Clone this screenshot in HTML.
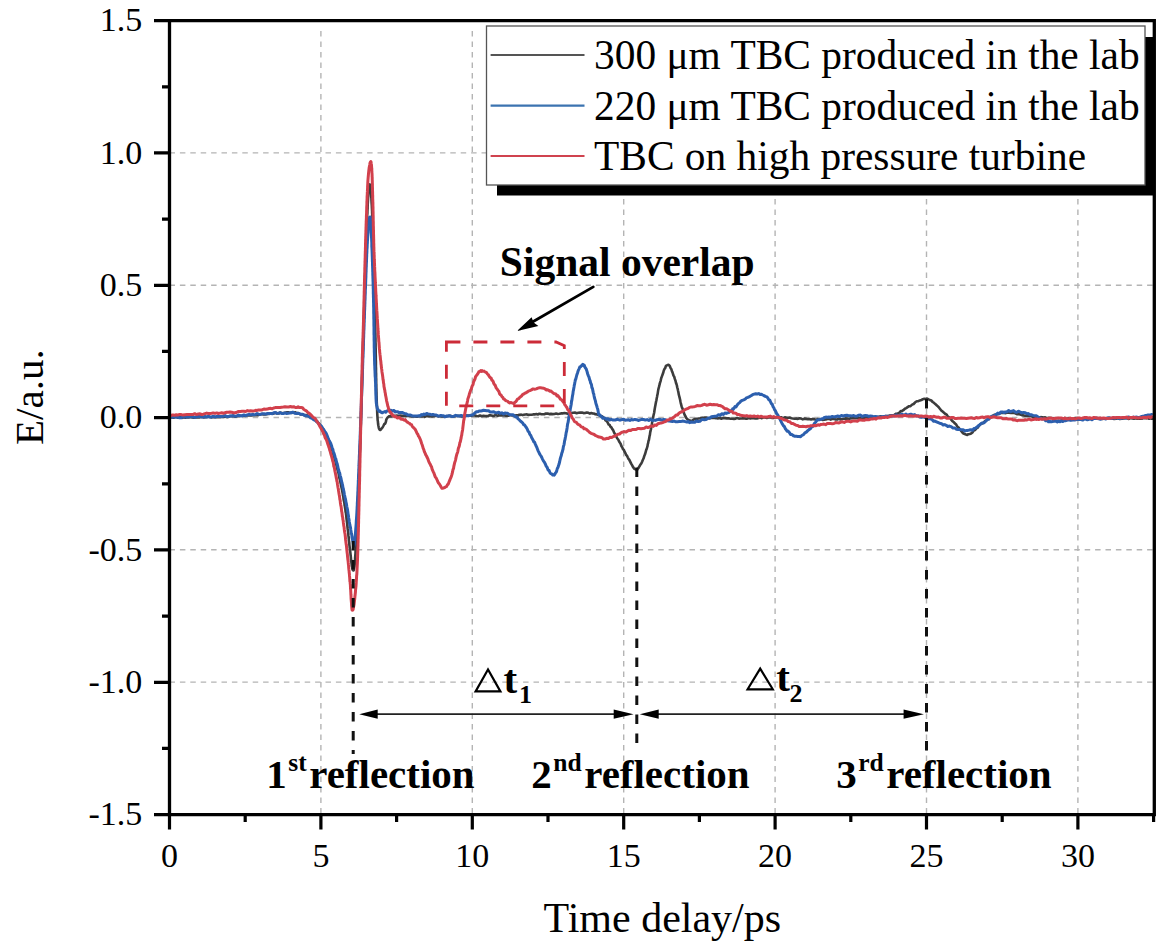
<!DOCTYPE html>
<html><head><meta charset="utf-8"><style>
html,body{margin:0;padding:0;background:#fff;}
body{width:1166px;height:950px;position:relative;overflow:hidden;font-family:"Liberation Serif",serif;color:#000;}
svg{position:absolute;left:0;top:0;}
</style></head><body>
<svg width="1166" height="950" viewBox="0 0 1166 950">
<path d="M320.9,31V813M472.3,31V813M623.7,31V813M775.1,31V813M926.5,31V813M1077.9,31V813" stroke="#b4b4b4" stroke-width="1.4" stroke-dasharray="5.5 5" fill="none"/>
<path d="M169.5,152.9H1153M169.5,285.2H1153M169.5,417.5H1153M169.5,549.8H1153M169.5,682.1H1153" stroke="#b4b4b4" stroke-width="1.4" stroke-dasharray="5.5 4.9" fill="none"/>
<path d="M170.0,417.2L170.9,417.5L171.8,417.3L172.8,417.6L174.0,417.6L175.2,417.0L176.4,416.9L177.8,417.7L179.2,417.2L180.6,417.1L182.2,417.9L183.7,417.3L185.4,417.7L187.0,417.3L188.8,417.4L190.5,416.9L192.3,417.4L194.1,417.6L195.9,417.3L197.8,417.4L199.7,417.4L201.6,416.7L203.5,417.4L205.4,417.2L207.3,416.9L209.1,416.6L211.0,417.4L212.9,416.9L214.8,417.2L216.6,417.3L218.4,417.1L220.2,417.2L221.9,416.7L223.6,417.0L225.3,416.6L226.9,417.1L228.5,416.9L230.0,416.1L231.8,416.1L233.6,416.1L235.4,416.7L237.2,416.1L239.0,416.2L240.8,415.7L242.6,415.8L244.4,415.6L246.2,415.4L247.9,415.5L249.7,415.4L251.5,415.5L253.2,415.2L255.0,415.3L256.7,415.1L258.4,415.1L260.1,414.6L261.7,414.0L263.3,414.5L264.9,414.5L266.5,414.3L268.0,413.9L269.5,413.9L271.0,413.3L272.4,413.8L273.8,413.4L275.1,413.1L276.4,412.8L277.7,413.5L278.9,413.5L280.0,412.6L282.7,413.2L285.0,412.7L287.1,412.3L288.8,412.4L290.4,412.8L291.8,412.9L293.0,412.1L294.3,412.8L295.4,412.3L296.7,413.2L298.0,413.0L299.4,413.9L301.0,414.4L302.7,414.3L304.3,415.2L305.9,415.0L307.5,415.4L309.1,416.5L310.6,416.7L312.1,417.6L313.6,418.7L315.0,420.0L316.3,420.7L317.3,421.5L318.3,423.4L319.3,423.9L320.2,425.7L321.1,426.8L321.9,427.5L322.8,428.9L323.6,430.4L324.5,431.9L325.3,433.4L326.1,434.9L326.8,436.6L327.6,438.7L328.4,440.0L328.9,441.2L329.5,442.9L330.0,443.8L330.5,445.3L331.1,447.4L331.6,448.5L332.1,450.0L332.6,451.1L333.1,453.1L333.5,454.9L334.0,456.0L334.5,458.3L335.0,460.0L335.4,461.1L335.9,463.4L336.4,465.0L336.8,466.9L337.2,468.4L337.7,470.5L338.1,472.2L338.5,473.0L338.8,474.5L339.1,476.6L339.5,478.4L339.8,479.2L340.2,481.0L340.5,482.7L340.8,484.0L341.1,485.6L341.4,487.1L341.8,488.8L342.1,490.6L342.4,491.9L342.7,493.6L343.0,495.6L343.3,496.5L343.5,498.7L343.8,500.5L344.1,501.7L344.4,503.2L344.6,505.4L344.9,506.5L345.1,508.1L345.4,509.9L345.6,511.8L345.9,512.8L346.1,514.7L346.3,516.3L346.5,518.5L346.7,519.9L346.9,522.0L347.1,523.0L347.3,525.0L347.5,527.0L347.7,529.0L347.9,530.3L348.1,531.8L348.3,533.3L348.4,535.4L348.6,536.7L348.8,539.0L348.9,540.6L349.1,541.5L349.3,543.1L349.4,545.1L349.6,546.3L349.7,547.8L349.9,548.6L350.0,549.6L350.3,552.2L350.6,555.0L350.8,556.7L351.0,558.8L351.2,560.8L351.4,562.6L351.6,564.2L351.8,566.1L352.0,566.5L352.2,567.4L352.4,569.1L352.6,569.6L352.9,570.2L353.2,570.0L353.5,570.5L353.8,570.0L354.1,568.1L354.4,566.8L354.7,564.1L355.0,560.2L355.1,559.1L355.1,557.8L355.2,556.8L355.3,555.5L355.4,554.2L355.5,553.5L355.5,551.9L355.6,551.1L355.7,548.9L355.8,548.4L355.8,546.7L355.9,545.4L356.0,543.9L356.1,542.3L356.2,540.4L356.3,538.2L356.3,537.2L356.4,535.0L356.5,533.4L356.6,532.0L356.7,530.1L356.8,528.2L356.8,526.9L356.9,524.7L357.0,522.6L357.1,520.6L357.2,519.4L357.3,517.1L357.3,515.5L357.4,513.2L357.5,511.1L357.6,509.6L357.7,507.9L357.8,505.4L357.8,504.1L357.9,502.3L358.0,500.3L358.1,498.9L358.1,496.7L358.2,495.9L358.2,494.7L358.3,492.4L358.4,491.2L358.4,489.7L358.5,488.5L358.5,486.9L358.6,485.4L358.7,484.2L358.7,481.9L358.8,480.4L358.9,479.0L358.9,477.4L359.0,475.8L359.0,475.1L359.1,473.4L359.2,471.1L359.2,469.9L359.3,468.1L359.3,466.5L359.4,465.0L359.5,463.6L359.5,462.0L359.6,460.1L359.7,458.3L359.7,456.8L359.8,455.0L359.8,453.7L359.9,452.2L360.0,450.2L360.0,448.3L360.1,446.7L360.1,445.2L360.2,443.8L360.3,442.3L360.3,440.2L360.4,438.9L360.4,437.1L360.5,435.2L360.5,433.5L360.6,431.9L360.7,430.4L360.7,428.4L360.8,427.0L360.8,425.1L360.9,423.1L360.9,421.7L361.0,420.2L361.0,418.0L361.1,416.9L361.1,415.3L361.2,414.2L361.2,412.7L361.3,410.6L361.3,409.6L361.4,407.9L361.4,405.8L361.5,404.4L361.5,402.4L361.6,401.5L361.6,399.7L361.7,398.4L361.7,396.6L361.8,394.9L361.8,393.3L361.8,391.5L361.9,389.4L361.9,388.3L362.0,386.0L362.0,384.5L362.1,383.5L362.1,381.1L362.2,379.5L362.2,377.9L362.2,377.0L362.3,374.7L362.3,372.9L362.4,372.0L362.4,369.7L362.5,368.7L362.5,366.9L362.5,365.4L362.6,363.9L362.6,361.9L362.7,360.5L362.7,358.1L362.8,357.2L362.8,355.3L362.8,353.9L362.9,351.6L362.9,350.7L363.0,349.2L363.0,346.8L363.1,345.4L363.1,344.1L363.1,342.7L363.2,340.6L363.2,338.9L363.3,337.5L363.3,336.3L363.4,334.8L363.4,332.9L363.5,331.4L363.5,329.9L363.6,328.1L363.6,326.5L363.7,324.5L363.7,323.2L363.8,321.9L363.8,319.7L363.9,318.3L363.9,316.0L364.0,314.8L364.0,313.1L364.1,311.3L364.1,309.5L364.2,307.7L364.2,306.2L364.3,304.7L364.3,302.3L364.4,300.5L364.4,299.5L364.5,297.9L364.5,295.9L364.6,294.1L364.6,292.7L364.7,290.5L364.7,288.9L364.8,287.2L364.8,285.9L364.9,284.0L364.9,282.3L365.0,281.2L365.0,279.8L365.1,277.6L365.1,276.4L365.2,274.5L365.2,273.4L365.3,271.6L365.3,269.7L365.4,268.1L365.4,266.4L365.5,265.4L365.5,263.8L365.6,262.1L365.6,260.9L365.7,259.4L365.7,258.4L365.8,256.4L365.8,255.8L365.9,254.0L365.9,252.7L366.0,251.3L366.0,250.3L366.1,248.2L366.1,245.9L366.2,243.8L366.3,242.0L366.4,240.2L366.4,237.8L366.5,236.2L366.6,234.6L366.6,232.2L366.7,230.1L366.7,228.4L366.8,227.1L366.9,225.3L366.9,223.9L367.0,222.1L367.1,219.9L367.1,218.2L367.2,216.7L367.2,215.1L367.3,214.1L367.4,212.8L367.4,211.5L367.5,209.4L367.6,208.7L367.6,206.8L367.7,205.7L367.7,204.8L367.8,202.9L367.9,201.8L367.9,201.4L368.0,199.8L368.2,196.4L368.4,193.6L368.7,191.1L368.9,188.2L369.1,186.8L369.3,185.7L369.6,185.0L369.8,184.4L370.0,185.1L370.1,185.9L370.3,186.0L370.4,187.1L370.5,187.8L370.7,189.2L370.8,191.1L371.0,192.2L371.1,194.7L371.2,196.7L371.4,197.9L371.5,200.9L371.6,202.6L371.8,205.4L371.9,207.8L372.0,209.8L372.1,211.4L372.1,212.6L372.2,214.1L372.2,214.8L372.3,216.7L372.3,218.3L372.4,219.4L372.4,220.7L372.5,221.7L372.5,223.6L372.6,224.9L372.6,226.8L372.6,228.4L372.7,229.8L372.7,231.1L372.8,233.2L372.8,234.8L372.9,236.0L372.9,238.4L373.0,239.9L373.0,241.1L373.1,243.7L373.1,244.7L373.2,246.7L373.2,248.9L373.2,250.6L373.3,252.4L373.3,254.4L373.4,256.1L373.4,257.9L373.5,259.7L373.5,261.0L373.6,263.0L373.6,264.5L373.7,265.8L373.7,267.5L373.7,268.6L373.8,270.0L373.8,271.7L373.9,273.7L373.9,274.5L373.9,276.5L374.0,277.8L374.0,280.0L374.1,281.2L374.1,282.8L374.2,284.5L374.2,286.3L374.3,288.2L374.3,289.4L374.3,291.6L374.4,292.5L374.4,294.4L374.5,295.9L374.5,297.6L374.6,300.0L374.6,301.6L374.6,302.8L374.7,304.5L374.7,306.4L374.8,308.4L374.8,310.2L374.9,311.9L374.9,313.4L374.9,314.6L375.0,316.6L375.0,318.1L375.1,320.1L375.1,321.8L375.1,323.1L375.2,324.8L375.2,327.0L375.3,327.9L375.3,330.3L375.3,332.0L375.4,333.7L375.4,334.9L375.4,336.7L375.5,338.5L375.5,340.2L375.5,342.3L375.6,343.8L375.6,345.2L375.6,347.5L375.7,348.9L375.7,350.8L375.7,352.7L375.7,353.8L375.8,356.3L375.8,358.0L375.8,359.6L375.9,361.4L375.9,363.1L375.9,364.6L375.9,366.7L376.0,368.0L376.0,370.2L376.0,372.1L376.1,373.6L376.1,375.4L376.1,377.4L376.2,379.0L376.2,379.9L376.2,382.2L376.2,383.6L376.3,384.6L376.3,386.4L376.3,387.8L376.4,389.1L376.4,391.0L376.5,392.8L376.5,393.6L376.5,395.4L376.6,396.6L376.6,397.2L376.7,399.2L376.7,400.1L376.8,403.1L376.9,405.4L377.0,407.8L377.1,409.7L377.2,412.2L377.3,414.4L377.4,416.1L377.5,417.4L377.6,419.4L377.7,420.6L377.9,421.6L378.0,422.8L378.1,424.0L378.3,425.2L378.5,426.1L378.7,427.3L378.9,428.3L379.1,428.8L379.7,429.7L380.4,430.0L381.1,429.1L381.9,428.2L382.7,427.2L383.6,425.5L384.3,424.0L385.1,423.7L385.6,422.7L386.0,421.4L386.1,420.4L386.4,419.5L386.8,418.6L387.6,417.4L388.8,416.4L390.6,416.1L391.6,416.5L392.5,415.8L393.5,416.0L394.6,415.7L395.6,415.7L396.8,415.6L398.0,415.9L399.3,415.7L400.6,415.6L402.2,415.8L403.8,415.9L405.6,416.3L407.5,415.9L409.6,415.9L411.9,416.4L414.4,416.4L417.1,416.7L420.0,416.1L421.1,416.4L422.3,416.4L423.5,416.0L424.8,416.9L426.2,416.2L427.6,416.0L429.0,416.4L430.5,416.1L432.0,416.5L433.6,416.2L435.2,416.0L436.9,415.9L438.5,416.5L440.2,416.1L442.0,416.6L443.7,416.2L445.5,416.7L447.3,416.0L449.1,415.9L450.9,415.9L452.7,416.5L454.6,416.3L456.4,415.9L458.3,415.7L460.1,416.2L462.0,416.5L463.9,416.1L465.7,415.5L467.6,415.5L469.4,415.5L471.2,415.6L473.0,415.4L474.8,415.4L476.6,416.0L478.3,416.2L480.0,415.5L481.7,416.2L483.4,415.7L485.0,416.0L486.6,416.1L488.1,416.1L489.6,415.2L491.1,415.4L492.5,415.7L493.9,416.0L495.2,415.2L496.5,415.3L497.7,415.9L498.9,415.1L500.0,415.4L503.1,415.3L505.9,415.6L508.3,415.8L510.4,415.0L512.2,415.5L513.8,415.4L515.3,415.5L516.6,415.2L517.8,415.5L518.9,414.9L520.1,414.9L521.2,414.6L522.5,415.1L523.8,414.8L525.3,414.5L527.0,414.4L528.5,414.9L530.1,414.7L531.6,414.7L533.1,414.4L534.7,414.4L536.3,414.0L537.8,414.5L539.4,413.7L541.0,414.1L542.6,414.3L544.3,414.2L545.9,413.5L547.6,413.6L549.2,414.1L550.9,413.9L552.6,414.1L554.4,414.0L556.1,413.6L557.9,414.0L559.4,413.8L561.0,413.4L562.6,413.4L564.3,413.0L566.0,413.3L567.7,413.8L569.5,412.8L571.3,413.2L573.1,412.7L574.9,412.6L576.6,413.2L578.4,412.7L580.2,412.5L581.9,412.6L583.6,413.1L585.2,413.0L586.8,412.5L588.4,412.8L589.9,413.6L591.3,413.0L592.6,413.5L593.8,413.5L595.0,414.1L597.3,414.5L599.3,415.4L600.9,415.9L602.3,416.5L603.5,417.5L604.5,418.5L605.5,420.4L606.5,421.0L607.5,422.2L608.6,424.5L609.6,424.9L610.5,426.8L611.4,427.4L612.3,429.1L613.2,430.3L614.0,432.4L614.8,433.7L615.7,435.2L616.5,436.9L617.3,438.5L618.2,439.5L619.0,441.3L619.8,442.6L620.6,443.7L621.4,446.0L622.2,447.3L623.0,449.1L623.9,450.0L624.7,451.9L625.5,453.3L626.2,455.1L627.0,455.8L627.8,457.5L628.5,458.8L629.2,459.6L630.3,461.9L631.3,463.9L632.2,465.4L633.2,467.3L634.1,468.6L635.0,469.1L636.0,469.6L637.0,470.0L637.7,468.8L638.4,468.1L639.1,466.8L639.8,465.7L640.6,464.3L641.3,463.5L642.1,461.7L642.8,460.0L643.6,458.3L644.3,455.9L645.0,454.3L645.7,451.9L646.3,449.7L646.7,448.9L647.1,447.5L647.5,446.1L647.8,444.1L648.2,442.9L648.5,440.9L648.9,439.9L649.2,438.2L649.6,435.9L649.9,434.8L650.2,432.4L650.6,430.6L650.9,429.5L651.2,427.3L651.5,425.8L651.9,424.2L652.2,421.8L652.5,420.8L652.9,418.7L653.2,417.1L653.5,415.4L653.8,414.2L654.2,412.5L654.5,410.3L654.8,408.4L655.1,406.8L655.4,405.2L655.8,403.1L656.1,401.4L656.4,400.3L656.7,398.5L657.0,397.0L657.3,395.3L657.7,393.6L658.0,391.4L658.3,389.6L658.6,388.3L659.0,386.9L659.3,385.6L659.7,384.2L660.0,382.8L660.6,381.1L661.2,378.3L661.9,376.4L662.5,374.8L663.2,372.8L663.8,370.5L664.5,368.9L665.2,368.1L665.8,366.1L666.5,365.4L667.2,365.2L667.8,364.9L668.5,364.7L669.2,365.2L669.9,366.3L670.6,368.1L671.4,369.3L672.1,371.6L672.8,373.3L673.5,375.5L674.2,376.6L674.8,378.9L675.5,380.7L675.9,382.5L676.3,383.8L676.8,385.1L677.2,387.3L677.6,388.5L678.0,390.5L678.4,392.2L678.8,394.6L679.2,396.0L679.6,397.6L680.0,399.2L680.4,401.3L680.8,403.1L681.2,404.7L681.6,406.4L682.0,407.7L682.4,408.3L683.2,410.6L684.0,413.3L684.8,415.2L685.6,416.5L686.4,418.2L687.2,419.0L688.2,419.7L689.2,420.3L690.2,420.5L691.0,421.0L691.7,421.0L692.6,420.4L693.7,419.4L695.2,418.9L697.3,418.7L700.0,418.3L701.1,418.1L702.3,417.9L703.5,417.9L704.9,417.6L706.3,417.6L707.8,418.1L709.3,418.5L710.9,418.0L712.6,417.9L714.3,417.9L716.0,418.1L717.8,418.5L719.6,418.1L721.4,418.7L723.2,417.9L725.0,418.1L726.8,418.4L728.6,418.3L730.4,418.8L732.2,418.8L733.9,418.9L735.6,418.6L737.3,418.0L738.9,418.6L740.6,418.5L742.2,418.4L743.9,418.2L745.5,418.6L747.2,418.7L748.8,417.9L750.5,418.4L752.1,418.0L753.7,418.1L755.4,418.4L757.0,418.4L758.6,418.0L760.3,417.5L761.9,418.2L763.5,417.4L765.2,417.5L766.8,417.9L768.4,417.4L770.1,417.3L771.7,417.9L773.3,417.9L775.0,417.3L776.6,417.4L778.2,417.3L779.9,417.2L781.5,417.4L783.2,418.2L784.8,417.4L786.4,417.6L788.1,417.7L789.7,417.6L791.4,418.2L793.0,418.5L794.6,418.7L796.3,418.6L797.9,418.9L799.5,418.2L801.2,418.6L802.8,419.4L804.5,418.6L806.1,418.9L807.7,419.2L809.4,419.0L811.0,419.4L812.7,418.9L814.3,419.1L815.9,419.9L817.6,419.1L819.2,419.8L820.9,419.1L822.5,419.9L824.1,419.6L825.8,419.5L827.4,419.0L829.0,418.9L830.7,419.6L832.3,418.9L834.0,418.9L835.6,419.5L837.2,419.5L838.9,418.6L840.5,419.5L842.2,419.0L843.8,418.8L845.4,418.4L847.1,418.6L848.7,419.1L850.4,418.4L852.0,418.1L853.7,418.1L855.4,418.0L857.1,418.1L858.9,418.6L860.6,417.7L862.4,417.7L864.2,418.4L866.0,418.3L867.8,418.2L869.6,417.4L871.4,417.4L873.2,417.9L874.9,417.3L876.6,417.4L878.3,416.9L880.0,416.4L881.6,416.6L883.1,416.9L884.6,416.7L886.0,416.3L887.3,416.1L888.6,415.9L889.8,415.6L892.2,415.2L894.2,415.0L895.8,413.8L897.2,413.6L898.4,413.3L899.5,412.5L900.7,411.1L901.9,411.1L903.3,410.2L904.9,408.7L906.2,408.1L907.6,407.2L909.1,406.2L910.5,406.1L912.1,404.6L913.6,404.0L915.2,402.3L916.8,401.2L918.3,401.2L919.9,400.4L921.4,400.0L922.9,399.2L924.3,398.8L925.7,399.0L927.1,398.5L928.6,399.4L930.0,400.0L931.3,400.5L932.7,402.0L934.0,402.8L935.3,404.1L936.6,405.2L937.9,406.4L939.1,407.7L940.3,409.2L941.5,410.7L942.6,411.6L944.0,412.8L945.4,414.0L946.7,414.7L947.9,416.7L949.1,417.2L950.3,418.3L951.4,419.9L952.6,421.3L953.8,422.2L955.0,423.6L956.2,424.6L957.4,426.7L958.6,427.6L959.8,429.2L961.0,430.7L962.2,432.3L963.5,433.6L964.7,434.0L966.0,434.5L967.3,434.9L968.5,434.2L969.8,434.0L971.1,433.6L972.4,432.5L973.7,430.6L975.1,430.1L976.4,428.3L977.8,427.5L979.1,425.6L980.5,424.2L981.8,423.5L983.2,422.8L984.7,421.3L986.1,420.7L987.5,419.5L988.9,418.1L990.3,417.1L991.7,416.4L993.2,415.5L994.7,414.8L996.2,414.5L997.8,414.2L999.3,413.6L1000.9,412.9L1002.5,412.8L1004.2,412.9L1005.8,413.1L1007.5,412.6L1009.2,412.6L1010.9,412.9L1012.6,413.0L1014.2,412.9L1015.7,413.6L1017.2,414.2L1018.7,414.1L1020.2,414.6L1021.8,415.1L1023.4,415.4L1025.2,415.8L1027.0,415.7L1028.9,416.2L1031.0,415.9L1032.3,416.8L1033.4,416.5L1034.5,416.7L1035.5,417.3L1036.5,416.8L1037.5,416.8L1038.6,417.6L1039.7,417.5L1040.8,417.1L1042.1,417.2L1043.6,417.6L1045.2,417.4L1047.0,418.3L1049.1,417.8L1051.3,418.0L1053.9,418.2L1056.8,418.3L1060.0,418.3L1061.1,418.5L1062.2,418.6L1063.4,418.4L1064.7,418.1L1066.0,419.0L1067.4,418.7L1068.8,418.1L1070.3,418.4L1071.8,418.8L1073.4,419.0L1075.0,418.1L1076.7,418.0L1078.3,418.5L1080.1,418.5L1081.8,418.9L1083.6,418.9L1085.4,418.4L1087.2,418.5L1089.1,418.6L1091.0,418.9L1092.8,418.3L1094.8,418.4L1096.7,418.1L1098.6,418.7L1100.5,418.1L1102.5,419.0L1104.4,418.6L1106.4,418.6L1108.3,418.1L1110.3,418.3L1112.2,418.5L1114.1,418.9L1116.0,418.6L1117.9,418.3L1119.8,419.0L1121.7,418.7L1123.5,418.5L1125.3,418.2L1127.1,418.3L1128.9,418.9L1130.6,418.1L1132.3,418.5L1134.0,418.6L1135.6,418.3L1137.2,418.7L1138.7,418.8L1140.2,418.8L1141.7,418.7L1143.1,418.1L1144.4,418.0L1145.7,418.3L1146.9,418.2L1148.1,418.1L1149.2,418.8L1150.3,418.1L1151.3,418.7L1152.2,418.8L1153.0,418.0" stroke="#3c3c3c" stroke-width="2.6" fill="none" stroke-linejoin="round"/>
<path d="M170.0,418.0L170.9,417.2L172.0,417.0L173.3,416.9L174.7,416.7L176.2,417.3L177.8,417.2L179.5,417.8L181.3,417.7L183.1,416.6L185.0,417.1L186.9,417.1L188.9,416.7L190.8,416.8L192.8,416.8L194.7,417.4L196.5,416.8L198.3,416.5L200.0,416.6L201.7,416.9L203.3,417.0L205.0,416.5L206.7,417.1L208.3,416.4L210.0,417.0L211.7,416.9L213.3,416.2L215.0,417.0L216.7,416.4L218.3,416.5L220.0,416.6L221.7,416.5L223.3,416.2L225.0,415.6L226.7,416.6L228.3,416.6L230.0,416.0L231.7,416.0L233.4,415.5L235.1,416.3L236.9,415.9L238.6,415.1L240.4,415.8L242.1,415.9L243.9,414.9L245.6,415.7L247.4,414.9L249.1,414.3L250.7,414.9L252.4,414.3L254.0,414.7L255.6,414.4L257.1,413.6L258.6,414.1L260.0,414.5L262.0,413.8L263.9,413.8L265.7,414.1L267.4,413.5L269.1,413.4L270.7,413.4L272.2,413.7L273.7,412.8L275.3,412.5L276.8,413.4L278.4,413.1L280.0,412.7L281.6,413.5L283.3,413.5L285.0,412.9L286.6,413.5L288.3,413.3L289.9,413.1L291.5,412.5L293.1,412.2L294.7,413.2L296.3,413.5L297.9,413.2L299.4,413.7L301.0,414.2L302.7,414.2L304.3,415.3L305.9,415.7L307.5,416.1L309.1,416.4L310.6,417.8L312.1,418.3L313.6,419.7L315.0,420.0L316.3,421.4L317.5,422.1L318.6,423.5L319.7,424.9L320.8,425.5L321.8,426.7L322.8,428.6L323.8,429.6L324.7,431.5L325.7,432.6L326.6,434.2L327.5,436.6L328.4,439.0L329.0,440.2L329.5,441.0L330.1,442.1L330.6,443.1L331.2,444.8L331.7,446.3L332.3,448.7L332.8,449.1L333.3,451.9L333.8,452.8L334.3,454.4L334.8,455.7L335.3,458.4L335.8,458.9L336.3,461.1L336.7,462.7L337.2,463.9L337.6,465.5L338.1,468.2L338.5,469.4L338.9,470.8L339.3,472.6L339.7,472.9L340.1,475.3L340.5,476.8L340.8,477.6L341.2,479.4L341.6,481.6L341.9,482.3L342.3,484.4L342.6,485.1L342.9,487.4L343.3,488.5L343.6,490.4L344.0,491.9L344.3,494.3L344.7,495.8L345.0,497.2L345.4,499.3L345.7,500.3L346.0,502.4L346.3,503.2L346.6,505.2L346.9,507.0L347.2,508.4L347.5,509.7L347.8,511.7L348.1,514.2L348.4,515.4L348.7,518.0L349.0,519.5L349.3,521.9L349.6,523.6L349.9,525.2L350.2,526.4L350.5,527.6L350.8,530.0L351.1,531.8L351.3,533.5L351.6,533.9L351.8,535.2L352.0,537.6L352.2,538.4L352.4,539.1L352.6,540.3L353.1,541.9L353.4,544.3L353.6,545.7L353.8,546.3L353.9,545.7L354.0,545.2L354.2,544.8L354.4,543.5L354.5,541.7L354.6,540.6L354.7,539.8L354.9,539.7L355.0,538.0L355.1,536.8L355.2,536.3L355.4,534.3L355.5,532.3L355.6,531.3L355.8,528.7L355.9,527.3L356.0,526.0L356.2,523.3L356.3,521.0L356.4,519.6L356.6,517.1L356.7,515.6L356.9,512.0L357.0,510.4L357.1,508.6L357.1,508.0L357.2,506.2L357.3,505.1L357.3,503.3L357.4,501.8L357.5,500.6L357.5,499.7L357.6,497.6L357.7,495.9L357.8,494.6L357.8,492.6L357.9,491.3L358.0,490.1L358.0,488.4L358.1,486.8L358.2,484.7L358.3,482.7L358.3,481.0L358.4,479.7L358.5,477.8L358.5,476.5L358.6,474.4L358.7,473.3L358.8,471.3L358.8,469.7L358.9,468.0L359.0,465.9L359.0,464.0L359.1,462.1L359.2,460.0L359.3,459.2L359.3,457.0L359.4,454.7L359.5,454.1L359.5,451.9L359.6,450.3L359.7,448.3L359.7,446.1L359.8,445.7L359.9,442.8L359.9,441.5L360.0,440.7L360.1,437.8L360.1,436.7L360.2,435.1L360.3,433.1L360.3,432.5L360.4,430.1L360.4,427.9L360.5,426.9L360.6,424.7L360.6,424.0L360.7,422.6L360.7,421.0L360.8,418.2L360.9,417.5L360.9,415.3L361.0,413.9L361.0,412.0L361.1,410.4L361.1,408.6L361.2,407.6L361.3,405.2L361.3,404.8L361.4,401.9L361.4,401.6L361.5,398.9L361.5,397.1L361.6,396.4L361.6,394.5L361.7,393.2L361.8,391.2L361.8,389.7L361.9,387.3L361.9,386.5L362.0,384.7L362.0,383.7L362.1,380.7L362.2,379.2L362.2,378.4L362.3,377.1L362.3,374.8L362.4,373.6L362.4,371.7L362.5,369.8L362.6,368.3L362.6,366.9L362.7,364.4L362.7,363.2L362.8,362.1L362.8,359.8L362.9,358.5L363.0,356.5L363.0,355.0L363.1,353.7L363.1,352.2L363.2,350.8L363.3,348.5L363.3,346.4L363.4,345.0L363.4,342.9L363.5,341.5L363.5,340.3L363.6,338.7L363.7,336.5L363.7,334.8L363.8,333.0L363.8,331.4L363.9,330.2L364.0,328.3L364.0,327.5L364.1,325.4L364.1,323.5L364.2,322.0L364.2,319.8L364.3,319.1L364.4,317.6L364.4,315.4L364.5,314.3L364.5,312.1L364.6,310.4L364.7,308.9L364.7,307.3L364.8,306.3L364.8,304.8L364.9,303.4L364.9,301.0L365.0,300.4L365.1,298.2L365.1,296.3L365.2,294.7L365.3,292.8L365.3,290.7L365.4,289.1L365.5,287.7L365.5,286.0L365.6,284.5L365.7,281.7L365.7,280.8L365.8,278.9L365.9,277.0L365.9,275.6L366.0,272.6L366.1,271.8L366.1,270.2L366.2,267.4L366.3,266.3L366.3,265.1L366.4,262.5L366.5,261.7L366.5,260.1L366.6,257.9L366.7,255.9L366.7,254.4L366.8,253.7L366.9,251.7L366.9,250.1L367.0,248.8L367.1,248.1L367.2,245.8L367.2,244.2L367.3,244.2L367.4,242.1L367.4,241.0L367.5,240.7L367.7,236.8L367.9,233.7L368.1,232.2L368.3,228.7L368.5,226.4L368.7,225.2L368.9,222.3L369.1,221.6L369.3,219.3L369.5,218.1L369.7,217.2L369.9,217.1L370.0,216.9L370.2,216.9L370.3,217.4L370.4,217.7L370.5,219.2L370.6,220.4L370.7,221.3L370.8,222.7L370.9,223.1L371.0,225.0L371.1,226.7L371.2,228.5L371.3,231.5L371.3,233.5L371.4,235.5L371.5,237.2L371.6,238.7L371.7,241.3L371.8,243.0L371.8,246.3L371.9,247.6L372.0,249.7L372.1,252.0L372.1,252.3L372.2,254.7L372.2,255.3L372.3,257.3L372.3,258.0L372.4,260.6L372.4,261.4L372.5,262.9L372.5,264.9L372.6,266.4L372.6,267.5L372.7,269.0L372.7,271.3L372.8,272.1L372.8,275.0L372.9,275.9L372.9,277.4L373.0,279.3L373.0,280.7L373.1,282.7L373.1,284.7L373.2,286.2L373.2,287.8L373.3,289.5L373.3,291.5L373.3,293.6L373.4,294.8L373.4,297.0L373.5,298.3L373.5,299.5L373.5,301.1L373.6,303.6L373.6,304.7L373.6,306.2L373.7,308.1L373.7,310.2L373.7,311.3L373.7,313.0L373.8,314.7L373.8,315.9L373.8,318.4L373.9,320.1L373.9,321.8L373.9,323.5L373.9,325.3L374.0,327.4L374.0,328.4L374.0,331.2L374.0,331.7L374.0,334.5L374.1,335.2L374.1,337.7L374.1,338.6L374.1,340.0L374.2,342.2L374.2,344.2L374.2,345.7L374.2,347.2L374.3,348.8L374.3,349.0L374.3,350.8L374.3,351.7L374.4,353.9L374.4,354.7L374.5,357.5L374.5,359.7L374.6,362.0L374.6,363.4L374.7,365.5L374.8,366.7L374.8,367.6L374.9,370.2L375.0,370.5L375.0,371.9L375.1,374.3L375.1,374.9L375.2,376.8L375.3,377.2L375.4,378.9L375.4,381.0L375.5,381.6L375.6,384.0L375.6,386.4L375.7,387.2L375.7,389.7L375.8,391.7L375.8,393.3L375.9,395.3L376.0,397.0L376.0,397.8L376.1,399.7L376.2,401.7L376.4,403.8L376.5,404.1L376.7,405.8L376.9,406.3L377.4,408.9L378.0,409.6L378.6,410.6L379.3,411.4L380.1,411.1L380.8,412.2L381.6,412.5L382.4,412.8L383.2,412.1L384.0,411.9L384.9,411.6L385.7,412.2L386.6,411.2L387.5,410.8L388.3,410.7L389.2,410.8L390.0,410.2L390.8,410.3L391.7,411.0L392.5,411.1L393.3,410.6L394.1,410.5L395.0,411.9L396.0,411.8L397.0,411.8L398.0,411.8L399.1,412.9L400.2,412.4L401.4,412.4L402.5,412.6L403.7,413.2L405.0,413.8L406.3,413.8L407.7,415.0L409.1,415.0L410.6,415.1L412.0,415.7L413.5,415.9L414.9,416.1L416.3,416.0L417.6,416.0L418.9,415.7L420.2,415.9L421.4,414.6L422.7,415.0L424.0,414.0L425.3,414.6L426.7,413.4L428.2,414.1L429.7,414.2L431.3,414.8L433.0,414.5L434.6,414.9L436.2,415.0L437.8,415.9L439.4,416.1L440.9,415.4L442.2,415.7L443.5,415.7L444.8,416.8L446.2,416.1L447.6,416.2L449.2,415.7L451.0,416.2L452.5,416.4L454.0,416.2L455.7,415.3L457.5,415.9L459.4,416.0L461.2,415.4L463.0,416.4L464.8,415.7L466.5,415.6L468.1,415.9L469.5,415.6L471.2,415.1L472.6,415.0L473.9,413.8L475.0,412.9L476.2,411.8L477.5,411.8L479.0,411.1L480.7,411.1L482.0,410.7L483.5,410.3L485.1,410.4L486.8,410.7L488.6,410.8L490.3,412.1L492.1,412.0L493.8,411.7L495.5,412.7L497.1,412.8L498.6,412.2L500.0,413.4L501.8,412.8L503.5,414.0L505.0,412.9L506.4,413.2L507.7,413.3L509.0,414.4L510.3,414.7L511.6,414.8L513.0,414.8L514.3,415.8L515.6,416.9L516.9,416.8L518.1,418.9L519.4,419.9L520.6,421.2L521.9,422.2L522.8,423.1L523.7,424.8L524.6,425.0L525.5,426.4L526.3,427.5L527.2,429.0L528.1,431.3L529.0,431.9L529.9,434.4L530.8,435.5L531.7,437.8L532.4,438.9L533.1,440.2L533.8,441.8L534.5,442.1L535.2,443.9L535.9,445.5L536.7,447.1L537.4,449.0L538.1,450.8L538.8,452.2L539.6,453.9L540.3,455.0L541.0,456.0L541.8,457.5L542.5,459.1L543.4,460.9L544.3,462.1L545.3,463.9L546.2,466.2L547.2,467.5L548.1,470.1L549.1,470.5L550.0,472.8L550.9,473.7L551.8,474.0L552.7,475.0L553.5,474.8L554.2,475.1L554.8,474.3L555.4,473.0L556.1,472.3L556.7,471.0L557.3,468.5L557.9,467.7L558.4,466.0L559.0,464.3L559.6,462.0L560.1,459.5L560.7,457.2L561.2,455.8L561.8,453.1L562.3,451.9L562.7,450.2L563.0,449.2L563.3,447.1L563.7,445.5L564.0,444.8L564.3,442.9L564.6,440.9L565.0,439.5L565.3,437.7L565.6,436.3L565.9,434.4L566.2,432.4L566.5,431.7L566.8,429.8L567.1,427.9L567.4,425.5L567.7,423.6L568.0,422.7L568.3,421.1L568.6,419.1L568.9,416.8L569.2,415.8L569.5,414.0L569.8,412.2L570.1,410.8L570.3,408.9L570.6,407.5L570.9,405.9L571.2,404.5L571.5,401.6L571.8,400.5L572.0,399.2L572.3,397.1L572.6,395.3L572.9,393.9L573.2,391.1L573.4,390.5L573.7,388.7L574.0,387.1L574.3,385.2L574.6,384.1L574.9,382.0L575.1,381.3L575.4,379.6L575.7,379.4L576.0,378.1L576.8,375.0L577.5,373.0L578.3,370.4L579.1,368.8L579.8,366.9L580.6,366.7L581.4,365.8L582.1,365.3L582.9,364.3L583.6,365.6L584.3,365.2L584.9,367.0L585.6,368.2L586.3,369.2L587.0,371.4L587.7,374.0L588.3,375.6L589.0,377.2L589.7,379.9L590.1,380.6L590.6,382.8L591.0,383.7L591.5,384.9L591.9,387.8L592.4,388.3L592.8,390.4L593.3,392.9L593.7,393.8L594.1,396.1L594.6,398.3L595.0,399.6L595.4,400.9L595.8,402.9L596.2,404.4L596.6,405.3L597.2,407.6L597.7,409.1L598.1,411.0L598.4,413.3L598.9,414.7L599.5,414.5L600.4,415.8L601.7,416.8L602.8,418.2L603.9,417.9L605.2,418.2L606.5,419.3L607.9,418.7L609.5,420.0L611.2,419.4L613.1,420.1L615.2,420.0L617.5,419.3L620.0,420.2L621.2,419.7L622.5,419.5L623.8,419.3L625.3,420.2L626.8,420.1L628.3,419.7L629.9,420.4L631.5,419.6L633.2,419.9L634.9,419.4L636.6,419.7L638.3,420.5L640.1,419.9L641.8,419.4L643.6,419.5L645.4,420.1L647.1,419.6L648.8,420.4L650.5,419.3L652.2,420.4L653.9,420.1L655.5,420.4L657.0,419.7L658.5,419.4L660.0,419.5L661.9,420.2L663.7,419.5L665.5,419.7L667.3,420.8L669.1,421.1L670.8,421.2L672.5,421.4L674.2,421.1L675.9,421.8L677.5,421.7L679.2,421.6L680.7,421.6L682.3,421.1L683.8,421.3L685.3,421.6L686.8,422.0L688.2,421.5L689.6,422.7L691.0,422.1L692.9,422.2L694.8,422.2L696.5,421.0L698.2,421.6L699.8,421.3L701.4,419.9L702.9,419.3L704.3,419.8L705.8,419.5L707.2,418.9L708.6,417.9L710.1,417.7L711.5,416.7L713.2,416.4L715.0,416.2L716.7,416.1L718.5,414.7L720.2,415.4L721.8,413.7L723.4,414.5L724.9,413.0L726.3,413.4L727.6,412.9L728.7,412.6L730.0,411.4L730.9,411.2L731.6,410.1L732.2,410.3L732.7,408.8L733.3,409.3L734.0,408.2L735.0,406.6L736.0,406.9L737.2,405.0L738.4,403.6L739.7,402.6L741.0,401.1L742.3,400.3L743.7,399.8L745.1,399.2L746.4,397.9L747.9,397.4L749.5,396.6L751.0,395.8L752.6,394.7L754.2,394.1L755.7,393.7L757.3,394.0L758.7,393.6L760.1,394.5L761.4,394.2L762.7,395.0L764.0,395.6L765.3,396.4L766.5,396.7L767.8,397.9L769.0,399.9L769.8,400.2L770.6,402.0L771.4,403.7L772.2,404.3L773.0,406.6L773.8,407.7L774.6,409.7L775.4,410.7L776.1,412.6L776.9,414.0L777.7,414.8L778.5,416.6L779.4,418.2L780.2,419.6L781.0,421.4L781.9,423.2L782.7,424.6L783.6,426.1L784.4,426.6L785.3,428.7L786.2,429.8L787.1,431.3L788.0,431.0L789.3,432.4L790.7,434.6L792.1,434.6L793.5,435.8L794.9,436.2L796.3,436.2L797.8,436.4L799.2,436.5L800.6,436.7L802.0,435.3L803.5,434.7L804.9,432.8L806.3,432.1L807.8,430.6L809.2,429.5L810.6,428.5L811.8,426.4L812.8,426.5L813.7,424.8L814.6,423.1L815.6,422.3L816.7,420.6L818.1,419.8L819.8,419.7L821.9,418.8L823.1,418.7L824.4,417.4L825.8,417.1L827.4,417.2L828.9,417.1L830.6,417.2L832.3,416.5L834.1,416.9L835.9,416.6L837.7,416.0L839.5,416.6L841.4,415.5L843.2,416.2L845.1,415.5L846.9,415.2L848.6,415.8L850.3,415.8L852.0,415.9L853.7,415.5L855.4,416.3L857.1,416.1L858.8,415.2L860.5,415.1L862.2,416.5L863.8,415.8L865.5,415.5L867.1,415.7L868.8,416.5L870.5,415.9L872.1,416.2L873.8,416.8L875.4,416.4L877.1,416.8L878.7,417.2L880.4,417.0L882.1,416.7L883.8,416.6L885.5,416.1L887.3,416.4L889.0,416.3L890.8,416.0L892.5,415.7L894.3,415.9L896.0,415.0L897.7,415.5L899.4,415.7L901.1,414.3L902.7,414.5L904.3,415.4L905.8,414.1L907.3,415.1L908.7,414.8L910.8,414.2L912.8,415.2L914.7,414.6L916.5,416.1L918.2,415.7L919.9,417.0L921.5,417.3L923.0,416.7L924.6,417.5L926.0,417.6L927.5,418.9L929.3,418.5L930.9,419.0L932.2,419.7L933.6,421.3L934.9,421.1L936.5,421.8L938.4,422.7L940.6,423.6L941.8,423.8L943.2,425.0L944.7,424.6L946.2,425.3L947.8,426.4L949.5,426.1L951.2,426.6L953.0,428.1L954.7,427.9L956.5,429.2L958.2,429.6L959.9,429.4L961.6,429.7L963.1,429.7L964.6,431.0L966.0,430.6L967.3,430.5L969.2,430.1L971.0,429.8L972.5,430.2L974.0,428.4L975.3,428.2L976.6,427.4L977.8,426.3L979.1,425.3L980.4,424.2L981.8,423.1L983.2,423.1L984.7,422.2L986.1,420.8L987.6,419.3L989.0,419.2L990.4,417.2L991.9,416.2L993.3,416.0L994.8,415.4L996.2,414.4L997.8,413.1L999.3,413.8L1000.8,412.1L1002.3,411.9L1003.8,412.5L1005.3,412.0L1007.0,411.7L1008.7,410.6L1010.6,411.7L1012.0,411.1L1013.5,410.6L1015.1,411.9L1016.8,412.2L1018.4,411.2L1020.2,412.0L1021.9,412.9L1023.6,412.4L1025.3,412.7L1026.9,413.7L1028.4,413.6L1029.9,414.7L1031.2,414.8L1033.1,415.4L1034.9,415.8L1036.5,415.8L1038.0,417.2L1039.4,417.7L1040.8,418.3L1042.1,419.0L1043.5,419.1L1044.7,419.4L1045.7,420.8L1046.6,420.4L1047.5,420.3L1048.5,421.8L1049.8,421.4L1051.5,421.7L1053.8,421.3L1054.9,421.0L1056.1,421.2L1057.3,421.9L1058.6,421.0L1059.9,421.8L1061.3,420.9L1062.8,421.6L1064.3,420.5L1065.9,420.7L1067.5,420.1L1069.2,420.0L1070.9,420.4L1072.7,420.0L1074.6,420.1L1076.5,419.5L1078.5,419.5L1080.5,419.4L1082.6,420.1L1084.7,418.8L1086.0,419.2L1087.4,419.8L1088.9,419.3L1090.4,418.8L1091.9,419.8L1093.6,418.5L1095.2,418.4L1096.9,418.2L1098.6,418.7L1100.4,419.3L1102.2,418.4L1104.0,418.4L1105.8,419.0L1107.6,417.9L1109.4,417.8L1111.2,418.6L1113.1,417.8L1114.9,418.3L1116.6,417.7L1118.4,418.3L1120.1,418.6L1121.8,418.0L1123.5,417.6L1125.1,418.1L1126.7,418.1L1128.2,417.1L1129.7,417.3L1131.1,417.4L1132.4,417.5L1133.7,417.1L1134.9,417.6L1136.0,417.0L1139.1,417.6L1141.8,416.5L1144.1,416.0L1145.9,415.4L1147.5,415.1L1148.8,414.9L1149.9,415.5L1150.9,414.6L1151.8,414.4L1152.6,414.9" stroke="#2c5fae" stroke-width="3" fill="none" stroke-linejoin="round"/>
<path d="M170.0,416.0L170.9,415.7L172.0,415.0L173.3,415.0L174.7,415.2L176.2,414.8L177.8,414.9L179.5,414.6L181.3,414.6L183.1,415.1L185.0,414.8L186.9,414.6L188.9,414.5L190.8,414.6L192.8,414.6L194.7,413.7L196.5,414.6L198.3,414.0L200.0,413.8L201.7,414.5L203.3,414.2L205.0,413.6L206.7,413.1L208.3,413.5L210.0,413.5L211.7,413.3L213.3,412.9L215.0,413.4L216.7,412.9L218.3,413.5L220.0,413.1L221.7,412.7L223.3,413.3L225.0,412.7L226.7,412.2L228.3,412.3L230.0,412.0L231.7,412.3L233.4,412.8L235.1,412.7L236.9,412.2L238.6,411.5L240.4,411.4L242.1,411.2L243.9,411.3L245.6,411.5L247.4,410.6L249.1,411.0L250.7,410.8L252.4,410.9L254.0,411.0L255.6,410.3L257.1,410.4L258.6,409.9L260.0,409.9L262.0,409.9L263.9,409.0L265.7,409.3L267.4,409.1L269.1,408.5L270.7,408.3L272.2,408.8L273.7,408.0L275.3,407.6L276.8,407.5L278.4,407.6L280.0,407.4L281.7,407.2L283.4,407.1L285.1,406.8L286.9,407.1L288.6,407.1L290.4,406.5L292.0,407.0L293.7,406.7L295.3,407.5L296.7,407.6L298.1,406.8L299.4,407.6L301.1,407.6L302.5,407.8L303.7,409.3L304.8,410.0L305.8,410.6L306.8,411.3L307.9,412.6L309.0,413.1L310.1,414.1L311.1,415.1L312.2,416.3L313.3,417.4L314.4,417.8L315.5,419.0L316.5,420.8L317.6,422.4L318.7,423.8L319.4,425.6L320.1,426.9L320.8,428.0L321.5,429.2L322.3,430.9L323.0,431.8L323.7,434.1L324.4,434.9L325.1,437.5L325.8,438.8L326.5,440.1L327.1,441.8L327.8,444.0L328.4,445.7L328.9,447.4L329.3,448.1L329.8,450.5L330.2,451.4L330.6,453.0L331.1,454.8L331.5,456.2L331.9,457.6L332.3,459.0L332.7,460.9L333.1,462.0L333.5,463.9L333.8,466.3L334.2,467.2L334.6,468.9L335.0,471.5L335.3,472.7L335.7,474.7L336.0,476.3L336.3,478.0L336.6,479.1L336.9,481.2L337.2,481.9L337.5,484.5L337.7,485.5L338.0,487.5L338.3,488.8L338.6,491.0L338.8,492.2L339.1,494.2L339.4,495.6L339.7,497.9L339.9,499.5L340.2,500.5L340.4,502.9L340.7,504.8L340.9,505.7L341.2,507.3L341.5,509.9L341.7,511.6L341.9,512.2L342.2,514.6L342.4,516.5L342.7,517.3L342.9,519.6L343.2,520.7L343.4,522.9L343.6,524.2L343.8,525.9L344.1,527.1L344.3,529.4L344.5,531.1L344.7,532.3L345.0,533.6L345.2,535.3L345.4,537.2L345.6,539.7L345.8,541.1L346.0,542.9L346.2,544.4L346.4,545.3L346.6,547.3L346.8,549.6L347.0,551.2L347.2,553.0L347.4,554.5L347.5,556.1L347.7,557.9L347.9,559.8L348.1,560.9L348.2,562.2L348.4,564.2L348.6,565.6L348.7,567.6L348.9,569.7L349.1,570.9L349.2,572.6L349.4,574.0L349.5,575.9L349.7,577.7L349.8,579.4L349.9,581.3L350.1,581.7L350.2,583.4L350.4,585.2L350.5,588.3L350.7,590.0L350.8,592.2L350.9,594.5L351.0,595.6L351.1,598.7L351.2,600.0L351.4,602.2L351.5,603.6L351.6,605.6L351.7,606.5L351.8,607.7L351.9,608.7L352.1,610.1L352.2,610.2L352.5,610.2L352.8,610.1L353.1,609.4L353.4,607.7L353.7,606.1L354.1,604.2L354.4,601.4L354.7,599.0L355.0,595.6L355.1,595.1L355.2,594.0L355.4,592.3L355.5,590.4L355.6,589.3L355.7,588.8L355.8,587.6L356.0,586.0L356.1,584.3L356.2,582.9L356.3,580.8L356.4,579.8L356.5,578.6L356.6,575.9L356.8,574.6L356.9,573.0L357.0,570.8L357.1,568.4L357.2,566.2L357.3,564.5L357.4,562.4L357.5,560.0L357.5,558.2L357.6,557.3L357.6,556.1L357.7,554.2L357.7,553.3L357.8,551.5L357.8,549.9L357.9,548.2L357.9,547.6L358.0,546.1L358.0,543.7L358.1,542.2L358.1,541.0L358.1,539.3L358.2,538.3L358.2,536.0L358.3,534.8L358.3,533.1L358.4,531.2L358.4,530.2L358.4,528.0L358.5,526.4L358.5,524.8L358.6,522.8L358.6,520.8L358.6,520.0L358.7,518.0L358.7,516.0L358.8,514.2L358.8,512.6L358.9,510.5L358.9,508.5L358.9,507.3L359.0,506.0L359.0,503.3L359.0,502.6L359.1,500.1L359.1,499.2L359.2,497.2L359.2,494.9L359.2,493.2L359.3,492.3L359.3,490.7L359.4,488.9L359.4,487.0L359.4,485.3L359.5,484.0L359.5,482.4L359.6,480.8L359.6,478.5L359.6,477.4L359.7,475.9L359.7,473.8L359.7,471.4L359.8,470.0L359.8,468.9L359.9,466.9L359.9,465.8L359.9,463.8L360.0,462.2L360.0,459.8L360.0,458.6L360.1,457.1L360.1,455.7L360.1,454.0L360.2,451.5L360.2,450.1L360.3,449.0L360.3,446.3L360.3,444.6L360.4,443.1L360.4,442.1L360.4,440.0L360.5,438.8L360.5,437.3L360.5,435.7L360.6,433.1L360.6,432.3L360.6,430.9L360.7,429.2L360.7,427.8L360.7,426.2L360.8,424.4L360.8,423.2L360.8,421.3L360.9,419.3L360.9,418.1L360.9,417.4L361.0,415.2L361.0,414.0L361.0,412.5L361.1,410.4L361.1,408.7L361.2,406.4L361.2,404.7L361.3,402.3L361.3,400.7L361.3,398.9L361.4,397.6L361.4,395.8L361.5,393.6L361.5,392.5L361.5,390.2L361.6,388.9L361.6,386.8L361.7,385.7L361.7,383.7L361.7,383.1L361.8,380.8L361.8,379.8L361.8,377.7L361.9,376.1L361.9,375.1L362.0,372.9L362.0,371.7L362.0,370.4L362.1,369.3L362.1,367.5L362.1,365.2L362.2,364.3L362.2,363.4L362.3,361.9L362.3,359.8L362.3,357.7L362.4,356.1L362.4,354.9L362.5,352.5L362.5,351.7L362.6,349.4L362.6,348.3L362.7,346.7L362.7,344.7L362.8,343.5L362.8,342.1L362.9,340.2L362.9,339.0L363.0,337.7L363.0,336.6L363.1,334.3L363.1,332.7L363.2,331.5L363.2,330.1L363.3,328.4L363.3,327.3L363.4,324.8L363.4,323.5L363.5,321.7L363.5,319.6L363.5,318.5L363.6,317.0L363.6,315.4L363.7,314.4L363.7,313.1L363.7,311.5L363.8,309.0L363.8,307.7L363.9,306.8L363.9,304.1L363.9,302.5L364.0,300.9L364.0,300.3L364.1,298.1L364.1,296.4L364.2,294.3L364.2,293.6L364.2,292.1L364.3,290.0L364.3,288.6L364.4,286.6L364.4,284.6L364.4,282.8L364.5,281.3L364.5,279.4L364.6,278.0L364.6,276.0L364.7,274.3L364.7,273.7L364.8,272.0L364.8,270.4L364.8,268.2L364.9,266.7L364.9,265.2L365.0,263.8L365.0,261.6L365.1,260.2L365.1,258.6L365.2,257.3L365.2,255.0L365.3,252.9L365.3,251.7L365.4,250.6L365.4,248.1L365.5,247.0L365.5,244.8L365.5,243.3L365.6,242.1L365.6,239.8L365.7,238.6L365.7,237.1L365.8,235.3L365.8,234.1L365.9,232.6L365.9,230.3L366.0,229.4L366.0,227.8L366.1,226.1L366.1,224.6L366.2,223.0L366.2,221.7L366.3,220.2L366.4,217.9L366.4,216.6L366.5,214.8L366.6,212.7L366.6,211.5L366.7,209.0L366.7,207.5L366.8,205.8L366.9,204.1L366.9,201.8L367.0,200.7L367.1,198.3L367.1,197.2L367.2,195.4L367.3,194.1L367.3,192.8L367.4,191.4L367.5,189.0L367.6,188.3L367.6,186.4L367.7,185.0L367.8,183.1L367.8,182.8L367.9,180.9L368.0,179.7L368.2,177.2L368.4,174.8L368.6,172.7L368.8,170.8L369.0,169.3L369.2,167.5L369.4,166.5L369.6,165.5L369.8,164.5L370.0,163.0L370.2,162.7L370.4,162.2L370.6,161.9L370.8,161.6L371.0,161.8L371.2,163.3L371.4,164.4L371.5,165.7L371.7,168.2L371.8,168.5L371.8,170.4L371.9,171.7L371.9,173.0L372.0,173.2L372.1,175.3L372.1,176.8L372.2,177.5L372.2,179.7L372.3,180.8L372.3,182.5L372.4,184.0L372.4,186.1L372.5,188.6L372.5,190.1L372.6,192.3L372.6,194.5L372.7,195.5L372.7,198.4L372.8,200.5L372.8,201.5L372.9,202.6L372.9,203.8L372.9,205.6L373.0,207.0L373.0,208.4L373.0,210.5L373.1,212.0L373.1,213.2L373.1,214.7L373.2,216.7L373.2,218.7L373.2,220.3L373.3,222.0L373.3,224.0L373.3,225.5L373.4,226.9L373.4,229.0L373.5,230.7L373.5,232.0L373.5,233.6L373.6,235.6L373.6,237.7L373.7,239.5L373.7,240.7L373.7,242.7L373.8,243.8L373.8,246.1L373.9,247.6L373.9,249.7L374.0,251.4L374.1,252.1L374.1,254.8L374.2,255.5L374.2,258.1L374.3,259.8L374.4,260.6L374.4,262.3L374.5,263.8L374.6,266.4L374.7,267.9L374.7,269.8L374.8,271.3L374.9,272.4L375.0,274.5L375.0,275.7L375.1,277.3L375.2,279.1L375.3,281.0L375.3,282.2L375.4,284.1L375.5,285.7L375.6,287.6L375.7,288.8L375.7,290.3L375.8,292.0L375.9,293.5L376.0,295.3L376.1,296.1L376.1,297.7L376.2,299.0L376.3,300.9L376.4,303.2L376.5,304.7L376.6,306.5L376.7,308.6L376.8,310.2L376.9,311.3L377.0,312.9L377.1,315.0L377.2,316.3L377.3,318.4L377.4,319.5L377.5,321.5L377.6,323.5L377.7,324.5L377.8,326.0L377.9,328.2L378.0,329.1L378.1,331.5L378.2,332.6L378.3,334.4L378.4,335.5L378.5,336.8L378.6,338.0L378.7,339.1L378.8,341.5L379.0,342.6L379.1,344.3L379.3,347.1L379.4,348.4L379.6,350.1L379.7,352.2L379.9,353.5L380.0,354.5L380.2,356.1L380.4,358.1L380.5,359.6L380.7,360.5L380.9,362.1L381.0,363.9L381.2,364.9L381.4,367.3L381.6,368.7L381.8,369.8L382.0,372.0L382.3,373.8L382.5,375.0L382.8,377.2L383.0,379.4L383.3,380.7L383.5,382.8L383.8,384.0L384.0,386.6L384.3,387.8L384.5,389.3L384.8,390.2L385.0,392.1L385.3,393.1L385.5,394.9L385.9,396.8L386.3,398.9L386.6,400.8L387.0,402.3L387.4,404.1L387.7,405.8L388.1,406.7L388.5,408.5L389.0,410.1L389.5,411.1L390.1,412.4L390.7,412.3L391.3,413.8L392.0,413.9L392.6,415.4L393.3,415.4L394.0,416.3L394.7,416.8L395.4,416.4L396.2,416.7L396.9,417.8L397.7,418.0L398.5,417.8L399.3,417.5L400.1,417.8L400.9,419.1L401.8,419.2L402.6,419.1L403.5,419.8L404.4,420.3L405.2,419.7L406.1,421.0L407.0,421.9L407.9,422.4L408.8,423.1L409.7,423.4L410.6,424.4L411.5,424.7L412.3,426.5L413.2,427.3L414.0,428.1L414.8,428.8L415.6,430.1L416.3,431.6L417.1,433.5L417.8,434.3L418.5,436.2L419.1,436.8L419.8,438.3L420.4,439.8L421.0,441.4L421.6,443.5L422.1,444.6L422.6,446.2L423.2,448.3L423.8,449.6L424.4,451.8L425.1,453.1L425.8,454.9L426.5,456.0L427.2,457.5L428.0,459.2L428.7,461.4L429.5,463.0L430.2,464.2L430.8,465.6L431.5,466.7L432.1,469.2L432.7,470.5L433.3,471.9L434.0,473.2L434.6,475.1L435.3,476.9L436.0,477.7L436.8,479.3L437.6,481.3L438.5,483.0L439.4,484.0L440.3,485.5L441.1,487.0L442.0,488.3L442.9,488.3L443.8,487.8L444.7,487.7L445.6,486.9L446.5,486.6L447.4,484.8L448.2,484.2L449.1,481.8L449.9,479.9L450.4,478.5L450.8,477.8L451.3,476.4L451.7,475.2L452.2,473.5L452.6,471.7L453.0,469.4L453.5,468.7L453.9,466.1L454.3,464.3L454.7,462.5L455.2,461.2L455.6,459.6L456.0,457.6L456.4,455.9L456.9,454.0L457.3,453.1L457.8,451.6L458.2,449.2L458.6,447.7L459.1,446.6L459.5,444.9L459.9,442.5L460.3,441.9L460.7,439.9L461.1,438.2L461.4,436.1L461.7,435.2L462.0,432.9L462.3,431.4L462.6,430.0L462.8,428.1L463.1,425.6L463.3,423.8L463.5,422.2L463.7,420.4L464.0,419.6L464.2,417.6L464.4,416.0L464.7,414.4L464.9,413.1L465.3,411.0L465.6,409.4L466.0,407.2L466.4,406.0L466.7,404.4L467.1,402.8L467.5,401.1L467.9,398.8L468.4,397.4L468.9,396.2L469.4,393.9L470.0,392.4L470.6,390.3L471.2,389.3L471.8,387.1L472.4,385.5L473.0,384.6L473.5,382.3L474.1,380.7L474.6,379.8L475.1,378.6L475.5,376.9L476.0,376.1L476.5,375.5L477.0,374.8L477.6,374.0L478.2,373.2L478.8,371.7L479.5,371.6L480.1,371.4L480.8,370.6L481.5,371.4L482.1,370.7L482.8,371.3L483.4,371.3L484.1,371.1L484.7,371.6L485.4,372.1L486.0,372.4L486.6,372.7L487.3,373.8L487.9,374.3L488.5,375.0L489.2,376.4L489.8,377.2L490.5,377.7L491.2,378.2L491.8,380.1L492.5,380.5L493.1,381.3L493.7,383.2L494.4,384.5L495.0,384.9L495.6,386.4L496.2,388.0L496.9,388.7L497.5,389.7L498.2,390.6L498.9,391.5L499.6,393.7L500.4,394.7L501.1,395.1L501.9,396.7L502.7,397.2L503.5,398.8L504.4,399.2L505.3,400.3L506.4,400.9L507.4,401.1L508.5,402.3L509.6,402.9L510.6,402.6L511.7,402.8L512.6,403.1L513.5,403.5L514.2,403.3L515.0,402.1L515.7,401.9L516.4,400.9L517.2,399.5L517.9,398.9L518.8,398.6L519.7,397.4L520.6,396.7L521.5,396.1L522.5,394.6L523.5,394.2L524.6,393.4L525.8,392.8L527.0,392.2L528.4,391.1L529.9,390.6L531.4,389.9L533.1,388.9L534.7,389.2L536.3,388.9L537.9,388.1L539.4,387.8L540.8,387.8L542.2,388.1L543.5,388.3L544.8,388.6L546.1,389.9L547.3,389.7L548.5,390.1L549.7,391.2L550.8,390.9L551.9,391.9L553.0,392.8L554.1,393.7L555.1,393.8L556.0,394.2L557.0,396.0L557.9,395.6L558.8,396.9L559.6,397.8L560.4,399.3L561.2,399.4L561.9,400.2L562.7,401.2L563.4,402.3L564.1,403.0L564.8,404.8L565.5,405.4L566.1,406.6L566.7,407.1L567.3,408.6L567.9,409.9L568.6,410.2L569.2,412.1L569.8,412.5L570.4,414.2L571.0,415.7L571.6,416.3L572.2,418.1L572.9,418.6L573.6,419.8L574.4,421.4L575.2,421.9L576.0,422.1L576.8,423.0L577.7,424.1L578.7,424.6L579.8,425.1L581.2,426.9L582.9,427.3L584.0,428.7L585.2,428.8L586.5,429.5L588.0,430.8L589.4,432.2L591.0,433.3L592.6,433.9L594.2,434.5L595.8,435.7L597.4,436.3L599.0,437.1L600.5,437.3L602.1,437.7L603.5,439.1L605.1,439.0L606.8,438.3L608.4,438.4L610.1,437.2L611.7,437.6L613.3,436.6L614.9,436.0L616.5,435.0L618.0,434.2L619.5,434.0L620.9,432.8L622.3,432.1L624.2,431.6L626.0,432.1L627.7,430.9L629.2,430.2L630.8,430.4L632.4,429.5L634.2,429.5L636.0,429.5L637.6,428.6L639.2,428.5L640.9,428.8L642.6,428.5L644.4,428.2L646.2,426.9L647.9,427.6L649.7,426.8L651.5,425.9L653.2,426.4L654.8,424.9L656.3,425.4L657.9,423.7L659.5,423.2L661.0,423.1L662.6,422.6L664.2,421.9L665.7,421.5L667.3,419.9L668.8,419.9L670.4,418.7L671.8,418.7L673.3,417.5L674.7,416.6L676.1,415.0L677.5,415.0L678.9,413.3L680.4,412.3L681.8,411.6L683.2,411.1L684.6,409.8L686.1,409.2L687.5,408.7L689.1,407.7L690.7,407.0L692.3,406.9L693.9,406.8L695.5,406.4L697.1,405.5L698.7,405.8L700.3,405.8L701.8,405.4L703.3,404.6L704.7,404.3L706.6,405.2L708.5,404.7L710.2,404.2L712.0,404.7L713.7,404.6L715.3,404.8L716.9,404.7L718.4,405.4L719.9,405.5L721.2,406.0L722.5,406.6L723.8,407.8L725.0,408.7L726.2,408.7L727.4,409.2L728.7,410.0L729.9,411.2L731.1,411.3L732.2,411.5L733.3,413.1L734.5,413.1L735.8,413.2L737.3,414.5L739.0,414.6L740.4,415.3L741.9,415.5L743.4,415.7L745.1,416.0L746.8,415.6L748.6,416.3L750.4,416.0L752.2,416.4L754.1,416.0L755.9,416.6L757.7,416.1L759.2,417.1L760.8,416.3L762.4,416.8L763.9,417.1L765.6,417.1L767.2,417.1L768.8,416.5L770.4,416.1L772.0,417.3L773.7,416.6L775.3,417.4L776.9,417.1L778.5,417.4L780.1,418.0L781.7,418.5L783.3,419.5L784.9,420.0L786.6,420.2L788.2,421.5L789.8,421.8L791.4,423.5L793.0,423.4L794.6,424.4L796.1,425.2L797.7,425.4L799.2,426.5L801.0,426.6L802.7,426.2L804.3,426.4L805.9,426.7L807.5,426.3L809.2,426.3L810.8,425.7L812.5,425.7L814.3,425.5L816.1,425.7L818.0,424.8L819.5,425.2L821.0,424.4L822.5,424.3L824.0,424.1L825.6,424.7L827.2,423.6L828.9,423.6L830.5,423.6L832.2,423.7L833.9,423.5L835.6,422.6L837.3,422.7L839.1,422.9L840.8,422.1L842.6,421.8L844.2,422.5L845.8,421.4L847.4,421.3L849.0,421.3L850.7,421.9L852.4,421.1L854.0,421.1L855.7,421.0L857.4,421.3L859.1,420.1L860.8,420.1L862.5,420.2L864.3,420.3L866.0,419.5L867.6,419.7L869.3,419.7L871.0,418.9L872.7,419.0L874.3,418.4L876.0,419.2L877.6,417.9L879.3,417.8L881.0,418.1L882.6,417.4L884.3,417.5L885.9,417.0L887.6,417.5L889.2,416.8L890.9,416.3L892.6,415.9L894.2,416.1L895.9,416.3L897.5,416.1L899.2,415.9L900.9,415.7L902.5,416.1L904.1,415.5L905.7,415.6L907.4,416.1L909.0,416.0L910.6,415.7L912.2,416.1L913.8,416.2L915.5,415.7L917.1,415.9L918.8,416.4L920.5,416.1L922.2,416.1L923.9,416.5L925.7,416.0L927.5,416.3L929.0,417.3L930.5,416.4L932.1,417.2L933.6,416.3L935.2,416.8L936.8,417.2L938.4,417.0L940.1,417.9L941.7,418.0L943.4,417.3L945.0,417.2L946.7,418.3L948.3,418.2L950.0,418.0L951.6,417.5L953.3,417.6L954.9,418.5L956.5,418.5L958.1,418.3L959.7,418.2L961.2,418.1L962.9,418.3L964.6,418.3L966.3,418.5L967.9,418.2L969.6,418.0L971.3,417.8L972.9,418.2L974.6,418.4L976.2,417.4L977.8,418.0L979.5,417.8L981.1,417.2L982.7,417.0L984.3,417.8L985.8,416.9L987.4,416.8L988.9,416.8L990.5,417.6L992.0,417.2L993.8,416.8L995.6,417.3L997.4,417.7L999.3,417.8L1001.1,417.7L1002.9,418.8L1004.7,418.8L1006.4,418.6L1008.1,418.9L1009.8,419.1L1011.5,419.0L1013.1,419.9L1014.6,419.7L1016.1,420.4L1017.5,420.7L1018.8,420.2L1020.9,420.2L1022.5,420.3L1023.9,420.3L1025.2,419.7L1026.4,419.9L1027.6,419.7L1029.1,419.2L1030.9,419.9L1033.2,419.6L1034.4,419.3L1035.5,418.8L1036.5,419.5L1037.6,419.0L1038.6,419.6L1039.7,419.3L1040.8,418.7L1042.0,419.3L1043.3,419.0L1044.6,418.7L1046.1,419.2L1047.7,418.6L1049.4,418.3L1051.3,418.1L1053.4,418.8L1055.7,418.3L1058.2,418.1L1061.0,417.9L1064.0,418.7L1065.1,418.1L1066.3,418.8L1067.6,418.8L1068.9,418.7L1070.2,418.0L1071.7,418.8L1073.1,418.4L1074.7,418.7L1076.2,418.7L1077.8,418.0L1079.5,418.0L1081.2,418.6L1082.9,417.9L1084.7,417.6L1086.5,417.5L1088.3,418.1L1090.2,417.8L1092.0,418.5L1093.9,417.4L1095.8,417.8L1097.7,418.2L1099.7,418.0L1101.6,418.3L1103.6,418.0L1105.5,418.3L1107.5,418.4L1109.4,418.2L1111.4,417.9L1113.3,417.6L1115.3,417.8L1117.2,417.4L1119.1,417.4L1121.0,417.7L1122.9,417.6L1124.7,417.5L1126.6,417.1L1128.4,418.2L1130.1,417.4L1131.9,417.5L1133.6,417.3L1135.2,417.6L1136.9,417.8L1138.4,418.0L1140.0,417.6L1141.4,418.0L1142.9,417.3L1144.3,417.4L1145.6,417.2L1146.8,417.9L1148.0,416.9L1149.2,417.0L1150.2,417.7L1151.2,417.0L1152.2,416.8L1153.0,417.1" stroke="#d2404c" stroke-width="3" fill="none" stroke-linejoin="round"/>
<path d="M446.4,342H556L564.3,345.6V405.9H446.4Z" stroke="#cc2b38" stroke-width="2.8" stroke-dasharray="14 13" fill="none"/>
<path d="M353.2,541V754M636.8,467.5V750M926.5,399V752" stroke="#111" stroke-width="3" stroke-dasharray="9.5 9.5" fill="none"/>
<path d="M376,714.2H615M657,714.2H905" stroke="#222" stroke-width="1.8" fill="none"/>
<path d="M359.2,714.2L377.7,709.6L377.7,718.8000000000001ZM633.6,714.2L613.7,709.6L613.7,718.8000000000001ZM639.8,714.2L658.7,709.6L658.7,718.8000000000001ZM923.9,714.2L903.6,709.6L903.6,718.8000000000001Z" fill="#000"/>
<path d="M593.3,286.9L532,322.3" stroke="#000" stroke-width="2.8" fill="none" stroke-linecap="round"/>
<path d="M517,331L531.6,317.3L533.6,322.6L538.4,326.1Z" fill="#000"/>
<path d="M169.5,20.6H1154.3V814.6H169.5Z" stroke="#000" stroke-width="3.3" fill="none"/>
<path d="M154,20.6H169.5M154,152.9H169.5M154,285.3H169.5M154,417.6H169.5M154,549.9H169.5M154,682.3H169.5M154,814.6H169.5M162,86.8H169.5M162,219.1H169.5M162,351.4H169.5M162,483.8H169.5M162,616.1H169.5M162,748.4H169.5M169.5,814.6V829.5M320.9,814.6V829.5M472.3,814.6V829.5M623.7,814.6V829.5M775.1,814.6V829.5M926.5,814.6V829.5M1077.9,814.6V829.5M245.2,814.6V822M396.6,814.6V822M548.0,814.6V822M699.4,814.6V822M850.8,814.6V822M1002.2,814.6V822M1153.6,814.6V822" stroke="#000" stroke-width="3.2" fill="none"/>
<rect x="497" y="37" width="657" height="158.5" fill="#000"/>
<rect x="486.5" y="26" width="658.5" height="159" fill="#fff" stroke="#555" stroke-width="1.3"/>
<path d="M490.6,55H584.5" stroke="#555" stroke-width="2.2"/>
<path d="M490.6,105.7H584.5" stroke="#3b73b0" stroke-width="2.2"/>
<path d="M490.6,156H584.5" stroke="#d0434f" stroke-width="2.2"/>
<g font-family="Liberation Serif" fill="#000"><text x="142.3" y="31.2" font-size="34" text-anchor="end">1.5</text><text x="142.3" y="163.5" font-size="34" text-anchor="end">1.0</text><text x="142.3" y="295.9" font-size="34" text-anchor="end">0.5</text><text x="142.3" y="428.2" font-size="34" text-anchor="end">0.0</text><text x="142.3" y="560.5" font-size="34" text-anchor="end">-0.5</text><text x="142.3" y="692.9" font-size="34" text-anchor="end">-1.0</text><text x="142.3" y="825.2" font-size="34" text-anchor="end">-1.5</text><text x="169.5" y="867" font-size="34" text-anchor="middle">0</text><text x="320.9" y="867" font-size="34" text-anchor="middle">5</text><text x="472.3" y="867" font-size="34" text-anchor="middle">10</text><text x="623.7" y="867" font-size="34" text-anchor="middle">15</text><text x="775.1" y="867" font-size="34" text-anchor="middle">20</text><text x="926.5" y="867" font-size="34" text-anchor="middle">25</text><text x="1077.9" y="867" font-size="34" text-anchor="middle">30</text><text x="594" y="68.5" font-size="41.4">300 &#956;m TBC produced in the lab</text><text x="594" y="119.5" font-size="41.4">220 &#956;m TBC produced in the lab</text><text x="594" y="170.2" font-size="41.4">TBC on high pressure turbine</text><text x="499.8" y="276.2" font-size="41.5" font-weight="bold">Signal overlap</text><path d="M488,669.5L475.6,691.4H500.4Z" fill="none" stroke="#000" stroke-width="2.2" stroke-linejoin="miter"/><path d="M760.2,668.6L747.6,689.3H772.8Z" fill="none" stroke="#000" stroke-width="2.2" stroke-linejoin="miter"/><text x="503.5" y="692.5" font-size="41" font-weight="bold">t</text><text x="519" y="702.5" font-size="26" font-weight="bold">1</text><text x="776.3" y="690.5" font-size="41" font-weight="bold">t</text><text x="789.5" y="702" font-size="26" font-weight="bold">2</text><text x="266.3" y="788.4" font-size="41" font-weight="bold">1<tspan font-size="25.5" dx="1.5" dy="-17">st</tspan><tspan dx="2.5" dy="17">reflection</tspan></text><text x="531.3" y="788.4" font-size="41" font-weight="bold">2<tspan font-size="25.5" dx="1.5" dy="-17">nd</tspan><tspan dx="2.5" dy="17">reflection</tspan></text><text x="836.2" y="788.4" font-size="41" font-weight="bold">3<tspan font-size="25.5" dx="1.5" dy="-17">rd</tspan><tspan dx="2.5" dy="17">reflection</tspan></text><text x="543.5" y="931.5" font-size="42">Time delay/ps</text><text transform="translate(42.5,445) rotate(-90)" x="0" y="0" font-size="41">E/a.u.</text></g>
</svg>
</body></html>
